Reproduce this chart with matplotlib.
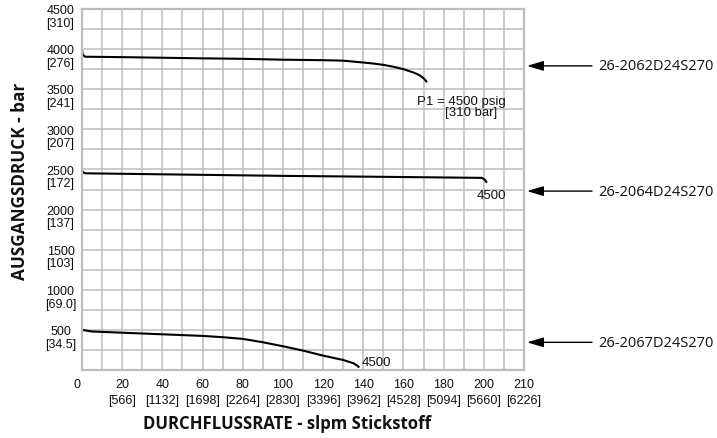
import numpy as np
import matplotlib
matplotlib.use('Agg')
import matplotlib.pyplot as plt
from matplotlib.transforms import offset_copy, blended_transform_factory

# ---- data ----
x_2062 = [0, 0.3, 1.5, 20, 60, 80, 100, 120, 130, 140, 145, 150, 155, 160, 165, 168, 170, 171, 171.7]
y_2062 = [3990, 3935, 3905, 3900, 3885, 3879, 3868, 3862, 3856, 3833, 3820, 3804, 3780, 3750, 3708,
          3675, 3637, 3610, 3587]

x_2064 = [0, 0.5, 1.5, 50, 100, 150, 199, 200.5, 201.5]
y_2064 = [2490, 2465, 2452, 2436, 2420, 2408, 2395, 2372, 2335]

x_2067 = [0, 5, 30, 60, 70, 80, 90, 100, 110, 120, 130, 135, 137, 138]
y_2067 = [500, 480, 455, 425, 409, 388, 346, 296, 242, 179, 125, 85, 55, 30]

series_names = ['26-2062D24S270', '26-2064D24S270', '26-2067D24S270']
arrow_y = [3791, 2230, 345]

x_tick_vals = [0, 20, 40, 60, 80, 100, 120, 140, 160, 180, 200, 220]
x_tick_top = ['0', '20', '40', '60', '80', '100', '120', '140', '160', '180', '200', '210']
x_tick_bot = ['', '[566]', '[1132]', '[1698]', '[2264]', '[2830]', '[3396]',
              '[3962]', '[4528]', '[5094]', '[5660]', '[6226]']

y_tick_vals = [500, 1000, 1500, 2000, 2500, 3000, 3500, 4000, 4500]
y_tick_top = ['500', '1000', '1500', '2000', '2500', '3000', '3500', '4000', '4500']
y_tick_bot = ['[34.5]', '[69.0]', '[103]', '[137]', '[172]', '[207]', '[241]', '[276]', '[310]']

# ---- figure ----
W, H = 717, 439
fig = plt.figure(figsize=(W / 100, H / 100), dpi=100)
ax = fig.add_axes([82 / W, 1 - 371 / H, 442 / W, 361 / H])
ax.set_xlim(0, 220)
ax.set_ylim(0, 4500)
ax.set_xticks(np.arange(0, 221, 10))
ax.set_yticks(np.arange(0, 4501, 250))
ax.grid(True, color='#bdbdbd', lw=1.1)
ax.set_axisbelow(True)
ax.tick_params(length=0, labelbottom=False, labelleft=False)
for s in ax.spines.values():
    s.set_color('#bdbdbd')
    s.set_linewidth(1.6)

lw = 1.5
ax.plot(x_2062, y_2062, color='black', lw=lw, solid_capstyle='butt', solid_joinstyle='round')
ax.plot(x_2064, y_2064, color='black', lw=lw, solid_capstyle='butt', solid_joinstyle='round')
ax.plot(x_2067, y_2067, color='black', lw=lw, solid_capstyle='butt', solid_joinstyle='round')

tick_font = dict(family='Liberation Sans', fontsize=9, color='#111111')

# x tick labels
tx = blended_transform_factory(ax.transData, ax.transAxes)
for v, t, b in zip(x_tick_vals, x_tick_top, x_tick_bot):
    dx = -5 if v == 0 else 0
    ax.text(v, 0, t, transform=offset_copy(tx, fig=fig, x=dx, y=-14.5, units='dots'),
            ha='center', va='center', clip_on=False, **tick_font)
    if b:
        ax.text(v, 0, b, transform=offset_copy(tx, fig=fig, y=-30, units='dots'),
                ha='center', va='center', clip_on=False, **tick_font)

# y tick labels
ty = blended_transform_factory(ax.transAxes, ax.transData)
for v, t, b in zip(y_tick_vals, y_tick_top, y_tick_bot):
    ax.text(0, v, t, transform=offset_copy(ty, fig=fig, x=-21.5, y=-1.2, units='dots'),
            ha='center', va='center', clip_on=False, **tick_font)
    ax.text(0, v, b, transform=offset_copy(ty, fig=fig, x=-21.5, y=-13.8, units='dots'),
            ha='center', va='center', clip_on=False, **tick_font)

# annotations
ann_font = dict(family='Liberation Sans', fontsize=9.5, color='#111111')
ax.text(166.5, 3354, 'P1 = 4500 psig', ha='left', va='center', clip_on=False, **ann_font)
ax.text(180.5, 3216, '[310 bar]', ha='left', va='center', clip_on=False, **ann_font)
ax.text(196.4, 2179, '4500', ha='left', va='center', clip_on=False, **ann_font)
ax.text(139.2, 100, '4500', ha='left', va='center', clip_on=False, **ann_font)

# right-side arrows and labels
for name, yv in zip(series_names, arrow_y):
    ax.annotate('', xy=(1 + 3 / 442, yv), xytext=(1 + 68 / 442, yv),
                xycoords=('axes fraction', 'data'), textcoords=('axes fraction', 'data'),
                annotation_clip=False,
                arrowprops=dict(arrowstyle='-|>,head_length=1.0,head_width=0.3',
                                color='black', lw=1.0, shrinkA=0, shrinkB=0))
    ax.text(1 + 74 / 442, yv, name, transform=ty, ha='left', va='center',
            family='Open Sans', fontsize=10.5, color='#111111', clip_on=False)

# axis titles
fig.text(20 / W, 1 - 181 / H, 'AUSGANGSDRUCK - bar', rotation=90, ha='center', va='center',
         family='Open Sans', fontweight='bold', fontsize=12.3, color='#111111')
fig.text(287.5 / W, 1 - 424 / H, 'DURCHFLUSSRATE - slpm Stickstoff', ha='center', va='center',
         family='Open Sans', fontweight='bold', fontsize=12.1, color='#111111')

fig.savefig('out.png', dpi=100)
